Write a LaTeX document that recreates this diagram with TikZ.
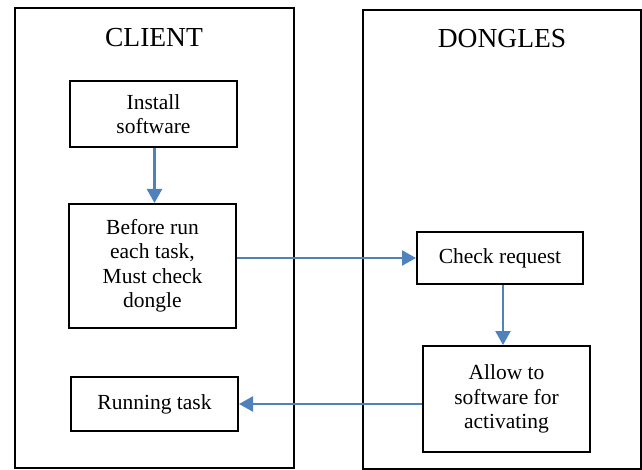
\documentclass[tikz,border=0pt]{standalone}
\usepackage{fontspec}
\setmainfont{Liberation Serif}
\usetikzlibrary{arrows.meta}
\definecolor{flowblue}{HTML}{4F81BD}
\begin{document}
\begin{tikzpicture}[x=1pt,y=-1pt,
  lane/.style={draw=black,line width=2pt,minimum width=#1,inner sep=0pt},
  stepbox/.style={draw=black,line width=2pt,align=center,inner sep=0pt,
    font=\fontsize{21.5}{24.5}\selectfont},
  title/.style={font=\fontsize{27.5}{30}\selectfont,inner sep=0pt},
  arr/.style={draw=flowblue,line width=2.3pt,-{Triangle[length=14pt,width=15pt]}}]
\useasboundingbox (0,0) rectangle (642,470);

% swim lanes
\node[lane=279pt,minimum height=460pt] (client) at (154.5,238) {};
\node[lane=278pt,minimum height=459pt] (dongles) at (502.3,239.5) {};
\node[title] (tclient) at (154,38) {CLIENT};
\node[title] (tdongles) at (502,39) {DONGLES};

% client steps
\node[stepbox,minimum width=167pt,minimum height=66pt] (install) at (153.5,114) {Install\\software};
\node[stepbox,minimum width=167pt,minimum height=124pt] (before) at (152.5,266) {Before run\\each task,\\Must check\\dongle};
\node[stepbox,minimum width=167pt,minimum height=54pt] (running) at (154.5,404) {Running task};

% dongle steps
\node[stepbox,minimum width=166pt,minimum height=52pt] (check) at (500,258) {Check request};
\node[stepbox,minimum width=167pt,minimum height=106pt] (allow) at (506.5,399) {Allow to\\software for\\activating};

% flow
\draw[arr] ([xshift=1pt]install.south) -- ([xshift=1pt]install.south |- before.north);
\draw[arr] (before.east |- check.west) -- (check.west);
\draw[arr] ([xshift=3pt]check.south) -- ([xshift=3pt]check.south |- allow.north);
\draw[arr] (allow.west |- running.east) -- (running.east);
\end{tikzpicture}
\end{document}
